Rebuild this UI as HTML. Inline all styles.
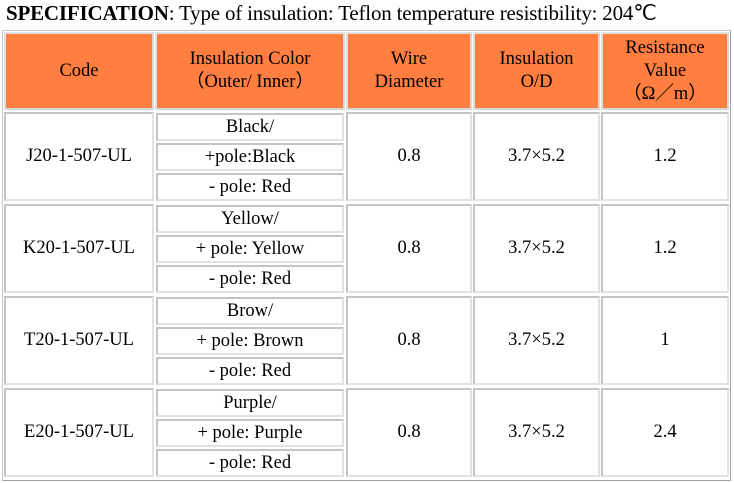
<!DOCTYPE html>
<html><head><meta charset="utf-8"><style>
body{margin:0;width:734px;height:483px;background:#fff;overflow:hidden;font-family:"Liberation Serif",serif;color:#000;position:relative}
.t{position:absolute;left:6px;top:1px;font-size:21px;white-space:nowrap;letter-spacing:-0.2px}
.outer{position:absolute;left:2px;top:30px;width:727px;height:449px;border:1px solid #c8c8c8;border-right-color:#a0a0a0;border-bottom-color:#a0a0a0}
.c{position:absolute;box-sizing:border-box;border:2px solid #c4c4c4;border-right-color:#e2e2e2;border-bottom-color:#e2e2e2;display:flex;align-items:center;justify-content:center;text-align:center;font-size:18.5px;line-height:23px}
.s{border-width:2px}
.h{background:#ff7e40;border-color:#e0e0e0 #d8d8d8 #d8d8d8 #e0e0e0}
</style></head><body>
<div class="t"><b>SPECIFICATION</b>: Type of insulation: Teflon temperature resistibility: 204℃</div>
<div class="outer"></div>
<div id="tbl"></div>
<script>
const cols=[[4,150],[155,190],[346,126],[473,127],[601,128]];
const headers=["Code","Insulation Color<br>（Outer/ Inner）","Wire<br>Diameter","Insulation<br>O/D","Resistance<br>Value<br>（Ω／m）"];
const codes=["J20-1-507-UL","K20-1-507-UL","T20-1-507-UL","E20-1-507-UL"];
const colors=[["Black/","+pole:Black","- pole: Red"],["Yellow/","+ pole: Yellow","- pole: Red"],["Brow/","+ pole: Brown","- pole: Red"],["Purple/","+ pole: Purple","- pole: Red"]];
const dia=["0.8","0.8","0.8","0.8"];
const od=["3.7×5.2","3.7×5.2","3.7×5.2","3.7×5.2"];
const res=["1.2","1.2","1","2.4"];
const root=document.getElementById('tbl');
function cell(x,y,w,h,html,cls,name){const d=document.createElement('div');d.className='c '+(cls||'');d.style.cssText=`left:${x}px;top:${y}px;width:${w}px;height:${h}px`;d.innerHTML=html;


root.appendChild(d);}
headers.forEach((t,i)=>cell(cols[i][0],32,cols[i][1],78,t,'h','header-cell'));
codes.forEach((c,r)=>{const y=112+r*92,h=89;
cell(cols[0][0],y,cols[0][1],h,c,'','code-cell');
const sx=cols[1][0]+1,sw=cols[1][1]-2;
colors[r].forEach((t,k)=>cell(sx,y+1+k*30,sw,28,t,'s','color-subcell'));
cell(cols[2][0],y,cols[2][1],h,dia[r],'','diameter-cell');
cell(cols[3][0],y,cols[3][1],h,od[r],'','od-cell');
cell(cols[4][0],y,cols[4][1],h,res[r],'','resistance-cell');});
</script>
</body></html>
